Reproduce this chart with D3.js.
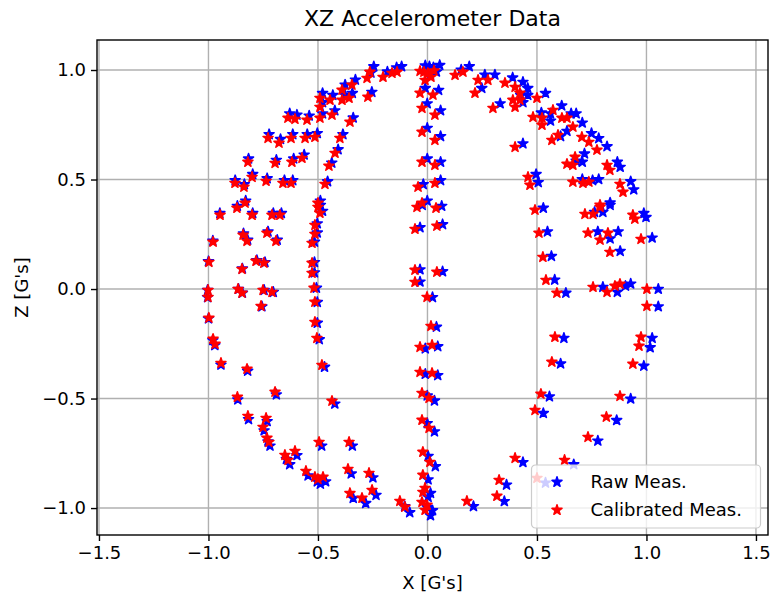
<!DOCTYPE html>
<html>
<head>
<meta charset="utf-8">
<script src="https://cdn.jsdelivr.net/npm/d3@7"></script>
<style>
  body { margin: 0; background: #fff; }
  text { font-family: "DejaVu Sans", sans-serif; fill: #000; }
</style>
</head>
<body>
<svg id="chart" width="774" height="604"></svg>
<script>
// tick values
const xTicks = [-1.5, -1.0, -0.5, 0.0, 0.5, 1.0, 1.5];
const zTicks = [-1.0, -0.5, 0.0, 0.5, 1.0];

// calibrated measurements [x, z]
const calMeas = [
  [-0.637,0.781],[-0.605,0.776],[-0.550,0.772],[-0.728,0.689],[-0.678,0.667],[-0.623,0.689],
  [-0.559,0.689],[-0.514,0.694],[-0.820,0.580],[-0.696,0.575],[-0.619,0.580],[-0.573,0.598],
  [-0.879,0.484],[-0.838,0.466],[-0.801,0.511],[-0.737,0.493],[-0.660,0.484],[-0.623,0.484],
  [-0.833,0.393],[-0.491,0.872],[-0.445,0.863],[-0.491,0.831],[-0.390,0.909],[-0.345,0.932],
  [-0.390,0.863],[-0.358,0.872],[-0.276,0.963],[-0.263,0.991],[-0.203,0.968],[-0.162,0.986],
  [-0.139,0.991],[-0.272,0.877],[-0.491,0.781],[-0.436,0.795],[-0.354,0.763],[-0.400,0.689],
  [-0.422,0.621],[-0.450,0.562],[-0.468,0.479],[-0.500,0.393],
  [-0.016,0.991],[0.002,0.986],[0.016,0.968],[-0.011,0.954],[-0.034,0.995],[0.030,0.997],
  [-0.034,0.895],[0.025,0.886],[-0.025,0.826],[0.034,0.795],[-0.025,0.717],[0.034,0.680],
  [-0.025,0.580],[0.034,0.566],[0.034,0.484],[-0.043,0.466],[-0.025,0.393],
  [0.126,0.977],[0.162,0.991],[0.231,0.954],[0.276,0.954],[0.217,0.895],[0.299,0.826],
  [0.354,0.941],[0.400,0.922],[0.422,0.895],[0.390,0.863],[0.400,0.831],[0.422,0.863],
  [0.500,0.872],[0.482,0.785],[0.523,0.781],[0.523,0.749],[0.400,0.648],[0.459,0.511],
  [0.468,0.475],[0.573,0.817],[0.614,0.781],[0.637,0.781],[0.568,0.680],[0.596,0.703],
  [0.664,0.740],[0.705,0.694],[0.737,0.671],[0.774,0.635],[0.637,0.571],[0.664,0.566],
  [0.674,0.603],[0.820,0.566],[0.833,0.543],[0.664,0.489],[0.710,0.484],[0.737,0.489],
  [0.879,0.479],[0.893,0.443],[0.788,0.384],
  [-0.947,0.338],[-0.870,0.370],[-0.801,0.338],[-0.710,0.338],[-0.674,0.338],[-0.979,0.215],
  [-0.842,0.247],[-0.824,0.219],[-0.733,0.256],[-0.692,0.219],[-0.998,0.123],[-0.847,0.091],
  [-0.783,0.128],[-0.747,0.119],[-1.002,-0.005],[-1.002,-0.037],[-0.865,0.000],[-0.847,-0.018],
  [-0.751,-0.005],[-0.710,-0.014],[-0.760,-0.078],[-0.998,-0.132],[-0.979,-0.228],[-0.970,-0.251],
  [-0.943,-0.338],[-0.824,-0.365],
  [-0.500,0.374],[-0.491,0.347],[-0.514,0.292],[-0.514,0.251],[-0.527,0.210],[-0.527,0.119],
  [-0.527,0.073],[-0.518,0.005],[-0.514,-0.059],[-0.514,-0.151],[-0.505,-0.224],[-0.482,-0.347],
  [-0.048,0.374],[-0.057,0.274],[-0.057,0.087],[-0.057,0.032],[-0.002,-0.037],[-0.034,-0.265],
  [0.039,0.370],[0.043,0.288],[0.043,0.078],[0.016,-0.169],[0.021,-0.256],
  [0.491,0.361],[0.509,0.256],[0.527,0.146],[0.541,0.041],[0.591,-0.018],[0.719,0.342],
  [0.756,0.342],[0.788,0.374],[0.938,0.338],[0.947,0.320],[0.733,0.256],[0.788,0.224],
  [0.824,0.256],[0.833,0.169],[0.975,0.228],[0.756,0.009],[0.820,-0.014],[0.856,0.014],
  [0.879,0.023],[1.002,0.000],[1.002,-0.078],[0.582,-0.219],[0.975,-0.219],[0.966,-0.260],
  [0.568,-0.333],[0.938,-0.342],
  [-0.868,-0.493],[-0.696,-0.470],[-0.820,-0.580],[-0.737,-0.589],[-0.751,-0.630],[-0.733,-0.680],
  [-0.724,-0.699],[-0.651,-0.758],[-0.605,-0.740],[-0.637,-0.781],[-0.555,-0.831],[-0.436,-0.511],
  [-0.495,-0.699],[-0.358,-0.699],[-0.514,-0.858],[-0.477,-0.858],[-0.363,-0.822],[-0.267,-0.840],
  [-0.253,-0.918],[-0.354,-0.932],[-0.299,-0.954],[-0.126,-0.968],[-0.103,-0.995],[-0.500,-0.868],
  [-0.034,-0.379],[-0.025,-0.475],[-0.025,-0.598],[-0.021,-0.744],[-0.021,-0.849],[-0.021,-0.927],
  [-0.025,-0.973],[-0.002,-0.986],[0.021,-0.384],[0.007,-0.498],[0.007,-0.635],[0.011,-0.790],
  [-0.011,-0.909],[-0.011,-1.009],
  [0.400,-0.772],[0.327,-0.872],[0.317,-0.945],[0.180,-0.968],[0.518,-0.479],[0.491,-0.553],
  [0.879,-0.489],[0.817,-0.584],[0.733,-0.676],[0.626,-0.781],[0.500,-0.863]
];

// raw measurements [x, z]
const rawMeas = [
  [-0.629,0.801],[-0.596,0.795],[-0.540,0.791],[-0.723,0.706],[-0.671,0.684],[-0.615,0.706],
  [-0.549,0.706],[-0.503,0.711],[-0.817,0.595],[-0.690,0.589],[-0.611,0.595],[-0.563,0.613],
  [-0.878,0.496],[-0.836,0.478],[-0.798,0.524],[-0.732,0.505],[-0.653,0.496],[-0.615,0.496],
  [-0.830,0.403],[-0.479,0.894],[-0.432,0.885],[-0.479,0.852],[-0.376,0.932],[-0.329,0.955],
  [-0.376,0.885],[-0.343,0.894],[-0.258,0.987],[-0.245,1.016],[-0.183,0.992],[-0.141,1.011],
  [-0.118,1.016],[-0.254,0.899],[-0.479,0.801],[-0.423,0.815],[-0.339,0.782],[-0.386,0.706],
  [-0.408,0.637],[-0.437,0.576],[-0.456,0.491],[-0.489,0.403],
  [0.009,1.016],[0.027,1.011],[0.041,0.992],[0.014,0.978],[-0.010,1.020],[0.056,1.022],
  [-0.010,0.917],[0.051,0.908],[-0.001,0.847],[0.060,0.815],[-0.001,0.735],[0.060,0.697],
  [-0.001,0.595],[0.060,0.580],[0.060,0.496],[-0.019,0.478],[-0.001,0.403],
  [0.154,1.001],[0.191,1.016],[0.262,0.978],[0.308,0.978],[0.248,0.917],[0.332,0.847],
  [0.389,0.965],[0.436,0.945],[0.458,0.917],[0.426,0.885],[0.436,0.852],[0.458,0.885],
  [0.539,0.894],[0.520,0.805],[0.562,0.801],[0.562,0.768],[0.436,0.664],[0.496,0.524],
  [0.506,0.487],[0.613,0.837],[0.656,0.801],[0.679,0.801],[0.608,0.697],[0.637,0.721],
  [0.707,0.759],[0.749,0.711],[0.782,0.688],[0.820,0.651],[0.679,0.585],[0.707,0.580],
  [0.717,0.618],[0.867,0.580],[0.880,0.557],[0.707,0.501],[0.754,0.496],[0.782,0.501],
  [0.928,0.491],[0.942,0.454],[0.834,0.394],
  [-0.948,0.346],[-0.868,0.379],[-0.798,0.346],[-0.704,0.346],[-0.667,0.346],[-0.980,0.220],
  [-0.840,0.253],[-0.821,0.224],[-0.728,0.262],[-0.686,0.224],[-1.000,0.126],[-0.845,0.093],
  [-0.779,0.131],[-0.742,0.122],[-1.004,-0.005],[-1.004,-0.038],[-0.863,0.000],[-0.845,-0.018],
  [-0.746,-0.005],[-0.704,-0.014],[-0.756,-0.080],[-1.000,-0.135],[-0.980,-0.234],[-0.971,-0.257],
  [-0.943,-0.346],[-0.821,-0.374],
  [-0.489,0.383],[-0.479,0.356],[-0.503,0.299],[-0.503,0.257],[-0.516,0.215],[-0.516,0.122],
  [-0.516,0.075],[-0.507,0.005],[-0.503,-0.060],[-0.503,-0.155],[-0.494,-0.230],[-0.470,-0.356],
  [-0.024,0.383],[-0.034,0.281],[-0.034,0.089],[-0.034,0.033],[0.023,-0.038],[-0.010,-0.272],
  [0.065,0.379],[0.069,0.295],[0.069,0.080],[0.041,-0.173],[0.047,-0.262],
  [0.529,0.370],[0.548,0.262],[0.566,0.150],[0.581,0.042],[0.632,-0.018],[0.763,0.351],
  [0.801,0.351],[0.834,0.383],[0.988,0.346],[0.998,0.328],[0.778,0.262],[0.834,0.230],
  [0.871,0.262],[0.880,0.173],[1.026,0.234],[0.801,0.009],[0.867,-0.014],[0.904,0.014],
  [0.928,0.024],[1.054,0.000],[1.054,-0.080],[0.623,-0.224],[1.026,-0.224],[1.017,-0.267],
  [0.608,-0.341],[0.988,-0.351],
  [-0.866,-0.505],[-0.690,-0.482],[-0.817,-0.595],[-0.732,-0.604],[-0.746,-0.646],[-0.728,-0.697],
  [-0.719,-0.716],[-0.644,-0.777],[-0.596,-0.759],[-0.629,-0.801],[-0.545,-0.852],[-0.423,-0.524],
  [-0.483,-0.716],[-0.343,-0.716],[-0.503,-0.879],[-0.465,-0.879],[-0.348,-0.843],[-0.249,-0.861],
  [-0.235,-0.941],[-0.339,-0.955],[-0.282,-0.978],[-0.104,-0.992],[-0.081,-1.020],[-0.489,-0.890],
  [-0.010,-0.388],[-0.001,-0.487],[-0.001,-0.613],[0.003,-0.763],[0.003,-0.870],[0.003,-0.950],
  [-0.001,-0.997],[0.023,-1.011],[0.047,-0.394],[0.032,-0.510],[0.032,-0.651],[0.036,-0.810],
  [0.014,-0.932],[0.014,-1.034],
  [0.436,-0.791],[0.361,-0.894],[0.351,-0.969],[0.210,-0.992],[0.557,-0.491],[0.529,-0.567],
  [0.928,-0.501],[0.864,-0.599],[0.778,-0.693],[0.668,-0.801],[0.539,-0.885]
];

const svg = d3.select("#chart");
const margin = { top: 40, left: 97, bottom: 69, right: 6 };
const width = 774, height = 604;
const fontSize = 18;

const x = d3.scaleLinear().domain([-1.509, 1.555]).range([margin.left, width - margin.right]);
const y = d3.scaleLinear().domain([-1.123, 1.137]).range([height - margin.bottom, margin.top]);

// grid
svg.append("g").selectAll("line").data(xTicks).join("line")
  .attr("x1", d => x(d)).attr("x2", d => x(d))
  .attr("y1", margin.top).attr("y2", height - margin.bottom)
  .attr("stroke", "#b0b0b0").attr("stroke-width", 1.4);
svg.append("g").selectAll("line").data(zTicks).join("line")
  .attr("y1", d => y(d)).attr("y2", d => y(d))
  .attr("x1", margin.left).attr("x2", width - margin.right)
  .attr("stroke", "#b0b0b0").attr("stroke-width", 1.4);

// star marker like matplotlib '*'
function starPath(R) {
  const r = R * 0.381966;
  let p = "";
  for (let i = 0; i < 10; i++) {
    const a = -Math.PI / 2 + i * Math.PI / 5;
    const rr = i % 2 === 0 ? R : r;
    p += (i === 0 ? "M" : "L") + (rr * Math.cos(a)).toFixed(2) + "," + (rr * Math.sin(a)).toFixed(2);
  }
  return p + "Z";
}
const star = starPath(5.3);

const plot = svg.append("g");
plot.selectAll("path.raw").data(rawMeas).join("path")
  .attr("class", "raw")
  .attr("d", star)
  .attr("transform", d => `translate(${x(d[0])},${y(d[1])})`)
  .attr("fill", "#0000ff").attr("stroke", "#0000ff").attr("stroke-width", 1.5)
  .attr("stroke-linejoin", "round");
plot.selectAll("path.cal").data(calMeas).join("path")
  .attr("class", "cal")
  .attr("d", star)
  .attr("transform", d => `translate(${x(d[0])},${y(d[1])})`)
  .attr("fill", "#ff0000").attr("stroke", "#ff0000").attr("stroke-width", 1.5)
  .attr("stroke-linejoin", "round");

// axes
const fmt = d3.format(".1f");
svg.append("g")
  .attr("transform", `translate(0,${height - margin.bottom})`)
  .call(d3.axisBottom(x).tickValues(xTicks).tickFormat(fmt).tickSize(6).tickPadding(5))
  .call(g => g.select(".domain").remove())
  .call(g => g.selectAll("line").attr("stroke-width", 1.4))
  .call(g => g.selectAll("text").attr("font-size", fontSize).attr("font-family", "DejaVu Sans"));
svg.append("g")
  .attr("transform", `translate(${margin.left},0)`)
  .call(d3.axisLeft(y).tickValues(zTicks).tickFormat(fmt).tickSize(6).tickPadding(5))
  .call(g => g.select(".domain").remove())
  .call(g => g.selectAll("line").attr("stroke-width", 1.4))
  .call(g => g.selectAll("text").attr("font-size", fontSize).attr("font-family", "DejaVu Sans"));

// frame
svg.append("rect")
  .attr("x", margin.left).attr("y", margin.top)
  .attr("width", width - margin.left - margin.right)
  .attr("height", height - margin.top - margin.bottom)
  .attr("fill", "none").attr("stroke", "#000").attr("stroke-width", 1.4);

// labels
svg.append("text").attr("x", (margin.left + width - margin.right) / 2).attr("y", 26)
  .attr("text-anchor", "middle").attr("font-size", 22).text("XZ Accelerometer Data");
svg.append("text").attr("x", (margin.left + width - margin.right) / 2).attr("y", 589)
  .attr("text-anchor", "middle").attr("font-size", fontSize).text("X [G's]");
svg.append("text").attr("transform", `translate(28,${(margin.top + height - margin.bottom) / 2}) rotate(-90)`)
  .attr("text-anchor", "middle").attr("font-size", fontSize).text("Z [G's]");

// legend
const legend = svg.append("g").attr("transform", "translate(531.5,465)");
legend.append("rect").attr("width", 229).attr("height", 63).attr("rx", 4)
  .attr("fill", "rgba(255,255,255,0.8)").attr("stroke", "#cccccc").attr("stroke-width", 1.2);
const entries = [["Raw Meas.", "#0000ff"], ["Calibrated Meas.", "#ff0000"]];
entries.forEach(([label, col], i) => {
  const ly = 17 + i * 28;
  legend.append("path").attr("d", star).attr("transform", `translate(25.5,${ly})`)
    .attr("fill", col).attr("stroke", col).attr("stroke-width", 1.5).attr("stroke-linejoin", "round");
  legend.append("text").attr("x", 59).attr("y", ly).attr("dy", "0.35em")
    .attr("font-size", fontSize).text(label);
});
</script>
</body>
</html>
